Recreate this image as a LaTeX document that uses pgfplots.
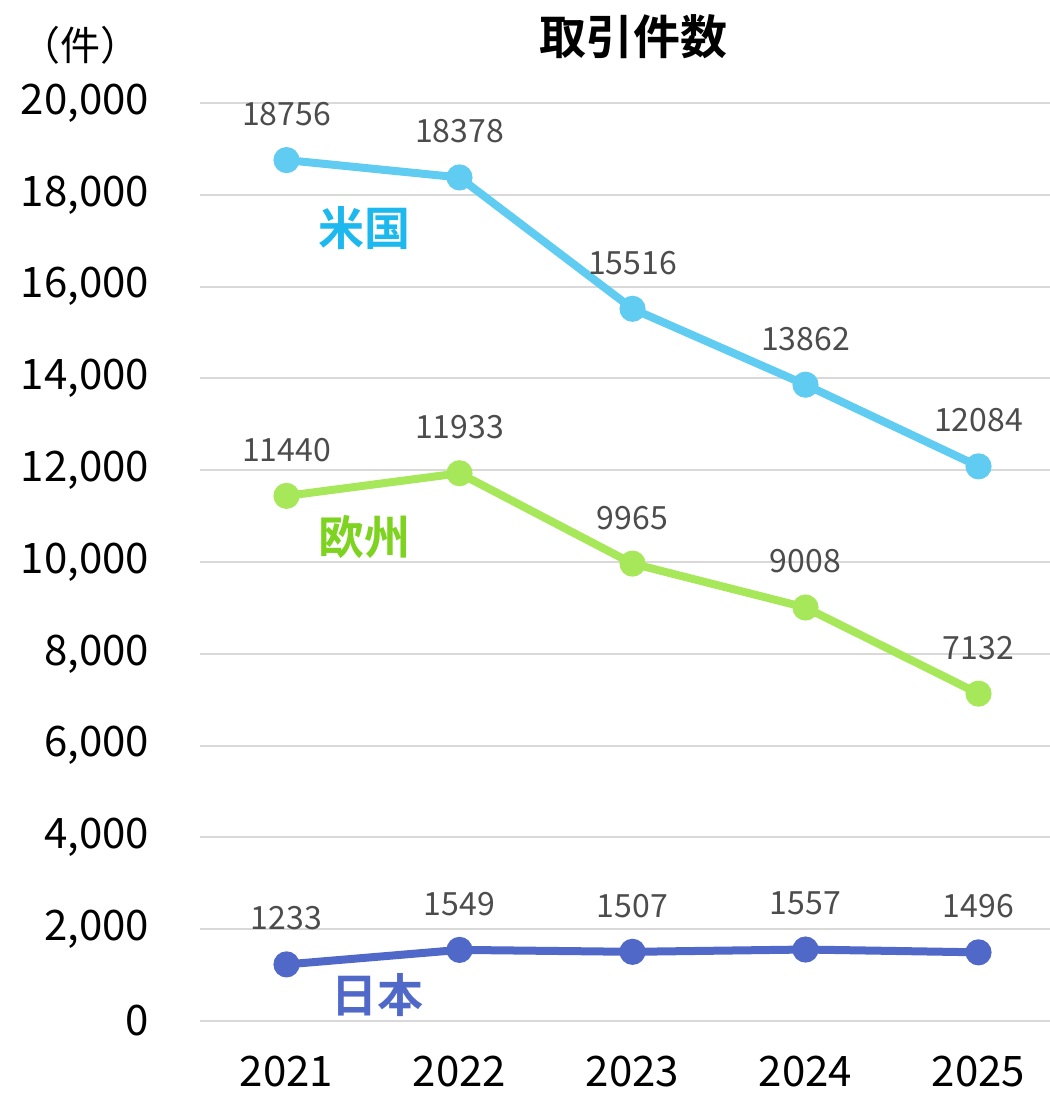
\documentclass[border=0pt]{standalone}
\usepackage{fontspec}
\setmainfont{Noto Sans CJK JP}[BoldFont={Noto Sans CJK JP Bold}]
\usepackage{pgfplots}
\pgfplotsset{compat=1.18}
\definecolor{usc}{RGB}{96,204,242}
\definecolor{ust}{RGB}{28,184,238}
\definecolor{euc}{RGB}{166,232,90}
\definecolor{eut}{RGB}{126,211,33}
\definecolor{jpc}{RGB}{80,104,200}
\definecolor{gridc}{RGB}{217,217,217}
\begin{document}
\begin{tikzpicture}
\useasboundingbox (0,0) rectangle (524.5pt,547.5pt);
\begin{axis}[
  at={(100pt,37pt)}, anchor=south west,
  width=432.5pt, height=459pt, scale only axis,
  xmin=-0.5, xmax=4.5, ymin=0, ymax=20000,
  xtick={0,1,2,3,4}, xticklabels={2021,2022,2023,2024,2025},
  ytick={0,2000,...,20000},
  major tick length=0pt,
  axis line style={draw=none},
  ymajorgrids, grid style={gridc, line width=1pt},
  /pgf/number format/assume math mode=true,
  yticklabel style={/pgf/number format/1000 sep={,}, font=\fontsize{21pt}{24pt}\selectfont, xshift=-22pt},
  xticklabel style={font=\fontsize{21pt}{24pt}\selectfont, yshift=-14pt},
  scaled y ticks=false,
  clip=false,
  nodes near coords={\pgfmathprintnumber[1000 sep={}]{\pgfplotspointmeta}},
  every node near coord/.style={anchor=center, yshift=23pt, font=\fontsize{16pt}{18pt}\selectfont, text=black!70},
]
\addplot[usc, line width=4pt, mark=*, mark size=4.5pt] coordinates {(0,18756) (1,18378) (2,15516) (3,13862) (4,12084)};
\addplot[euc, line width=4pt, mark=*, mark size=4.5pt] coordinates {(0,11440) (1,11933) (2,9965) (3,9008) (4,7132)};
\addplot[jpc, line width=4pt, mark=*, mark size=4.5pt] coordinates {(0,1233) (1,1549) (2,1507) (3,1557) (4,1496)};
\node[text=ust, font=\bfseries\fontsize{23pt}{26pt}\selectfont] at (axis cs:0.451,17277) {米国};
\node[text=eut, font=\bfseries\fontsize{23pt}{26pt}\selectfont] at (axis cs:0.451,10545) {欧州};
\node[text=jpc, font=\bfseries\fontsize{23pt}{26pt}\selectfont] at (axis cs:0.526,566) {日本};
\end{axis}
\node[font=\bfseries\fontsize{23.5pt}{27pt}\selectfont] at (316.5pt,529pt) {取引件数};
\node[font=\fontsize{20pt}{22pt}\selectfont] at (40pt,525pt) {（件）};
\end{tikzpicture}
\end{document}
